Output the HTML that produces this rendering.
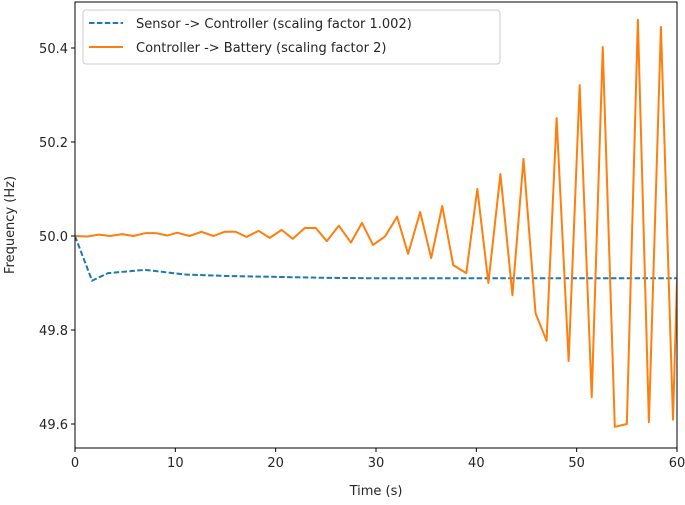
<!DOCTYPE html>
<html><head><meta charset="utf-8"><style>
html,body{margin:0;padding:0;background:#fff;}
svg text{font-family:"DejaVu Sans","Liberation Sans",sans-serif;font-size:13px;fill:#262626;}
</style></head><body>
<svg id="chart" width="685" height="500" xmlns="http://www.w3.org/2000/svg"></svg>
<script>
const orangeTimes=[0,1.2,2.4,3.5,4.7,5.8,7.0,8.1,9.2,10.2,11.4,12.6,13.8,14.9,16.0,17.1,18.3,19.4,20.6,21.7,22.9,24.0,25.1,26.3,27.5,28.6,29.7,30.9,32.1,33.2,34.4,35.5,36.6,37.7,39.0,40.1,41.2,42.4,43.6,44.7,45.9,47.0,48.0,49.2,50.3,51.5,52.6,53.8,55.0,56.1,57.2,58.4,59.6,60];
const orangeValues=[50.000,49.999,50.003,50.000,50.004,50.000,50.006,50.006,50.001,50.007,50.000,50.009,50.000,50.009,50.009,49.998,50.011,49.996,50.013,49.994,50.017,50.017,49.989,50.022,49.986,50.028,49.981,49.999,50.041,49.962,50.051,49.953,50.064,49.938,49.921,50.100,49.900,50.132,49.874,50.164,49.836,49.777,50.251,49.734,50.321,49.657,50.402,49.594,49.600,50.460,49.604,50.445,49.609,49.906];
const blueTimes=[0,1.7,3.3,7.0,11,15,20,25,30,35,45,60];
const blueValues=[50.0,49.905,49.921,49.928,49.918,49.915,49.913,49.911,49.910,49.910,49.910,49.910];
const xTicks=[0,10,20,30,40,50,60];
const yTicks=[49.6,49.8,50.0,50.2,50.4];
const yTickLabels=["49.6","49.8","50.0","50.2","50.4"];

const L=75,R=677,T=2,B=448;
const xs=t=>L+(t-0)/(60-0)*(R-L);
const ys=v=>236-(v-50)/0.2*94;
const svg=document.getElementById('chart');
const NS='http://www.w3.org/2000/svg';
function mk(tag,attrs,parent){const e=document.createElementNS(NS,tag);for(const k in attrs)e.setAttribute(k,attrs[k]);(parent||svg).appendChild(e);return e;}

const clip=mk('clipPath',{id:'pc'});mk('rect',{x:L,y:T,width:R-L,height:B-T},clip);

const blue=mk('polyline',{points:blueTimes.map((t,i)=>xs(t)+','+ys(blueValues[i])).join(' '),fill:'none',stroke:'#1f77b4','stroke-width':2,'stroke-dasharray':'5.5,2.4','clip-path':'url(#pc)'});


const orange=mk('polyline',{points:orangeTimes.map((t,i)=>xs(t)+','+ys(orangeValues[i])).join(' '),fill:'none',stroke:'#ff7f0e','stroke-width':2,'stroke-linejoin':'round','clip-path':'url(#pc)'});



const frame=mk('rect',{x:L,y:T,width:R-L,height:B-T,fill:'none',stroke:'#000','stroke-width':1});



xTicks.forEach(t=>{
  mk('line',{x1:xs(t),x2:xs(t),y1:B,y2:B+4,stroke:'#000'});
  const tx=mk('text',{x:xs(t),y:B+19,'text-anchor':'middle'});tx.textContent=t;
  
  
});
yTicks.forEach((v,i)=>{
  mk('line',{x1:L-4,x2:L,y1:ys(v),y2:ys(v),stroke:'#000'});
  const tx=mk('text',{x:L-7,y:ys(v)+5,'text-anchor':'end'});tx.textContent=yTickLabels[i];
  
  
});
const xl=mk('text',{x:376,y:495,'text-anchor':'middle'});xl.textContent='Time (s)';


const yl=mk('text',{x:14,y:225,'text-anchor':'middle',transform:'rotate(-90 14 225)'});yl.textContent='Frequency (Hz)';



const lg=mk('g',{});


mk('rect',{x:83,y:10,width:417,height:54,rx:3,fill:'#fff','fill-opacity':0.8,stroke:'#ccc'},lg);
mk('line',{x1:89,x2:123,y1:23,y2:23,stroke:'#1f77b4','stroke-width':2,'stroke-dasharray':'5.5,2.4'},lg);
mk('line',{x1:89,x2:123,y1:47,y2:47,stroke:'#ff7f0e','stroke-width':2},lg);
const t1=mk('text',{x:136,y:28},lg);t1.textContent='Sensor -> Controller (scaling factor 1.002)';


const t2=mk('text',{x:136,y:52},lg);t2.textContent='Controller -> Battery (scaling factor 2)';


</script>
</body></html>
